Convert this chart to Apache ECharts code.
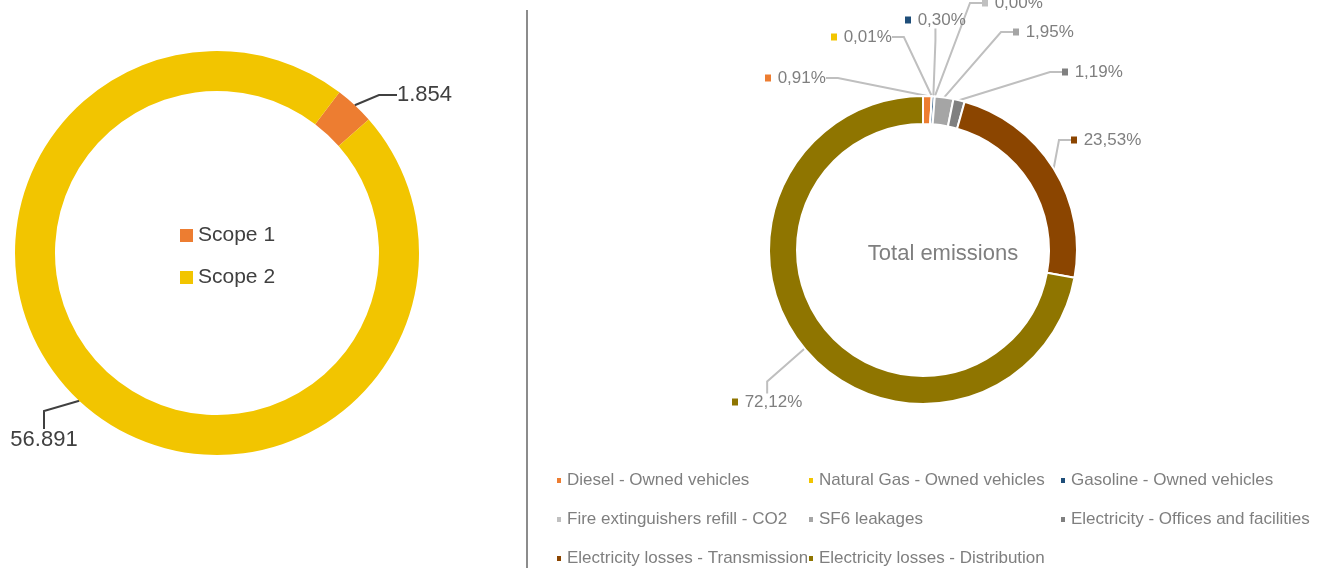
<!DOCTYPE html>
<html>
<head>
<meta charset="utf-8">
<script src="https://cdn.jsdelivr.net/npm/echarts@6/dist/echarts.min.js"></script>
<style>
  html, body { margin: 0; padding: 0; background: #fff; }
  #chart { width: 1328px; height: 568px; }
</style>
</head>
<body>
<div id="chart"></div>
<script type="text/javascript">
// left donut: emissions by scope
var scopeNames = ['Scope 1', 'Scope 2'];
var scopeValues = [1854, 56891];

// right donut: share of total emissions by source (%)
var sourceNames = [
    'Diesel - Owned vehicles',
    'Natural Gas - Owned vehicles',
    'Gasoline - Owned vehicles',
    'Fire extinguishers refill - CO2',
    'SF6 leakages',
    'Electricity - Offices and facilities',
    'Electricity losses - Transmission',
    'Electricity losses - Distribution'
];
var sourceShares = [0.91, 0.01, 0.30, 0.00, 1.95, 1.19, 23.53, 72.12];

var scopeColors = ['#ED7D31', '#F2C500'];
var sourceColors = ['#ED7D31', '#F2C500', '#1F4E79', '#C0C0C0', '#A5A5A5', '#808080', '#8B4500', '#8F7500'];

// where Excel put the data labels (left edge, middle)
var scopeLabelPos = [[397, 95], [44, 440]];
var sourceLabelPos = [[765, 78], [831, 37], [905, 20], [982, 3], [1013, 32], [1062, 72], [1071, 140], [732, 402]];

var FONT = 'Liberation Sans, Arial, sans-serif';

function fmtThousands(v) {
    return String(v).replace(/\B(?=(\d{3})+(?!\d))/g, '.');
}
function fmtPct(v) {
    return v.toFixed(2).replace('.', ',') + '%';
}

var myChart = echarts.init(document.getElementById('chart'));

var rich = { v: { fontSize: 17, color: '#7f7f7f', fontFamily: FONT } };
sourceColors.forEach(function (c, i) {
    rich['m' + i] = { width: 6, height: 7, backgroundColor: c };
});

// Excel legend is a 3-column grid, one legend per cell
var sourceLegends = sourceNames.map(function (n, i) {
    return {
        data: [n],
        padding: 0,
        left: 555 + (i % 3) * 252,
        top: 472 + Math.floor(i / 3) * 39,
        itemWidth: 6,
        itemHeight: 7,
        icon: 'rect',
        selectedMode: false,
        textStyle: { fontSize: 17, color: '#7f7f7f', fontFamily: FONT }
    };
});

var option = {
    animation: false,
    legend: [{
        data: scopeNames,
        orient: 'vertical',
        left: 175,
        top: 220,
        itemWidth: 13,
        itemHeight: 13,
        itemGap: 21,
        icon: 'rect',
        selectedMode: false,
        textStyle: { fontSize: 21, color: '#404040', fontFamily: FONT }
    }].concat(sourceLegends),
    graphic: [{
        type: 'line',
        shape: { x1: 527, y1: 10, x2: 527, y2: 568 },
        style: { stroke: '#8c8c8c', lineWidth: 2 }
    }, {
        type: 'text',
        x: 943,
        y: 254,
        style: {
            text: 'Total emissions',
            fill: '#7f7f7f',
            fontSize: 22,
            fontFamily: FONT,
            align: 'center',
            verticalAlign: 'middle'
        }
    }],
    series: [{
        type: 'pie',
        center: [217, 253],
        radius: [162, 202],
        startAngle: 52.7,
        clockwise: true,
        avoidLabelOverlap: false,
        emphasis: { disabled: true },
        itemStyle: { borderWidth: 0 },
        data: scopeNames.map(function (n, i) {
            return { name: n, value: scopeValues[i], itemStyle: { color: scopeColors[i] } };
        }),
        label: {
            show: true,
            position: 'outside',
            fontSize: 22,
            color: '#404040',
            fontFamily: FONT,
            formatter: function (p) { return fmtThousands(p.value); }
        },
        labelLine: {
            show: true,
            length: 15,
            length2: 18,
            lineStyle: { color: '#404040', width: 2 }
        },
        labelLayout: function (p) {
            var pos = scopeLabelPos[p.dataIndex];
            return p.dataIndex === 0
                ? { x: pos[0], y: pos[1], align: 'left', verticalAlign: 'middle' }
                : { x: pos[0], y: pos[1], align: 'center', verticalAlign: 'middle' };
        }
    }, {
        type: 'pie',
        center: [923, 250],
        radius: [126, 154],
        startAngle: 90,
        clockwise: true,
        avoidLabelOverlap: false,
        emphasis: { disabled: true },
        itemStyle: { borderColor: '#fff', borderWidth: 2 },
        data: sourceNames.map(function (n, i) {
            return { name: n, value: sourceShares[i], itemStyle: { color: sourceColors[i] } };
        }),
        label: {
            show: true,
            position: 'outside',
            formatter: function (p) {
                return '{m' + p.dataIndex + '|}  {v|' + fmtPct(p.value) + '}';
            },
            rich: rich
        },
        labelLine: {
            show: true,
            length: 20,
            length2: 12,
            lineStyle: { color: '#BFBFBF', width: 2 }
        },
        labelLayout: function (p) {
            var pos = sourceLabelPos[p.dataIndex];
            return { x: pos[0], y: pos[1], align: 'left', verticalAlign: 'middle' };
        }
    }]
};

myChart.setOption(option);
</script>
</body>
</html>
